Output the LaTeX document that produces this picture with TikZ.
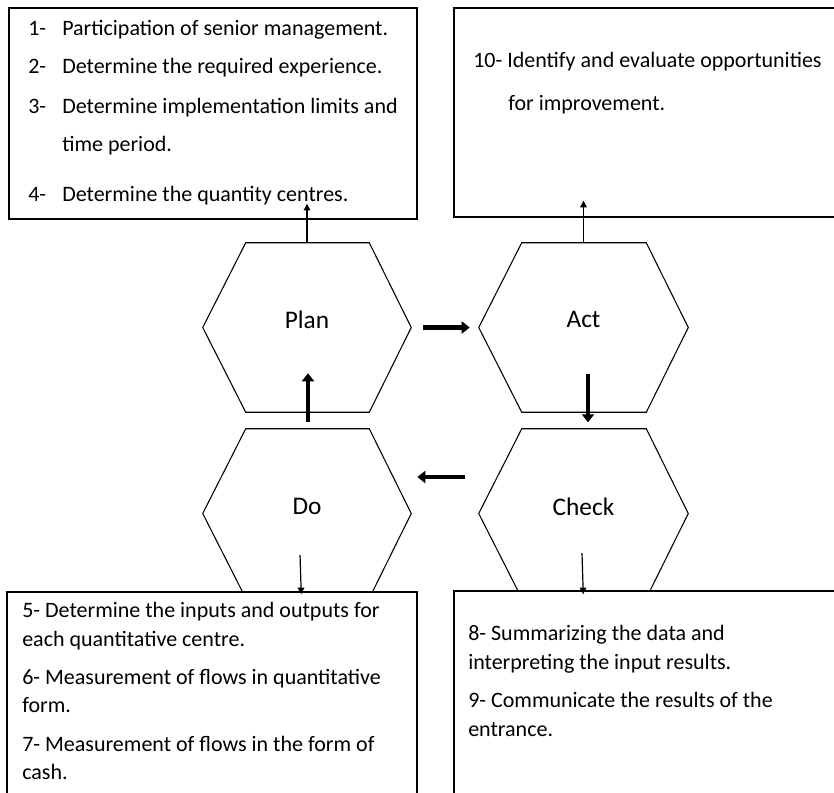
\documentclass[tikz,border=0pt]{standalone}
\usepackage{fontspec}
\setmainfont{Carlito}
\usetikzlibrary{arrows.meta,calc,fit}
\begin{document}
\begin{tikzpicture}[x=0.75pt,y=-0.75pt,
  box/.style={draw, line width=1.1pt, fill=white, inner sep=0pt},
  hexbox/.style={inner sep=0pt},
  hexline/.style={draw, line width=0.8pt, fill=white},
  hexlabel/.style={font=\fontsize{19}{23}\selectfont, inner sep=0pt},
  txt/.style={font=\fontsize{16.5}{20}\selectfont, anchor=base west, inner sep=0pt},
  bigarrow/.style={line width=3.6pt, -{Triangle[length=6pt,width=9pt]}},
  smallarrow/.style={line width=0.9pt, -{Triangle[length=5pt,width=5pt]}}
]
\useasboundingbox (0,0) rectangle (834,792);
\clip (0,0) rectangle (834,792);
\newcommand\hexpath[1]{\draw[hexline] (#1.west) -- ($(#1.north west)+(43,0)$) -- ($(#1.north east)+(-42,0)$) -- (#1.east) -- ($(#1.south east)+(-42,0)$) -- ($(#1.south west)+(43,0)$) -- cycle;}
% hexagons
\node[hexbox, fit={(203,243) (411,412)}] (plan) {};
\node[hexbox, fit={(479,243) (688,412)}] (act) {};
\node[hexbox, fit={(203,429) (411,598)}] (do) {};
\node[hexbox, fit={(479,429) (688,598)}] (check) {};
\hexpath{plan}
\hexpath{act}
\hexpath{do}
\hexpath{check}
\node[hexlabel] (planlabel) at ($(plan.center)+(0,-8)$) {Plan};
\node[hexlabel] (actlabel) at ($(act.center)+(0,-8)$) {Act};
\node[hexlabel] (dolabel) at ($(do.center)+(0,-7)$) {Do};
\node[hexlabel] (checklabel) at ($(check.center)+(0,-7)$) {Check};
% boxes
\node[box, fit={(9,8) (417,219)}] (box1) {};
\node[box, fit={(454,8) (840,217)}] (box2) {};
\node[box, fit={(7,592) (417,800)}] (box3) {};
\node[box, fit={(454,591) (840,800)}] (box4) {};
% box 1 text
\node[txt] (t1n) at (28,36) {1-};
\node[txt] (t1) at (62,36) {Participation of senior management.};
\node[txt] (t2n) at (28,74) {2-};
\node[txt] (t2) at (62,74) {Determine the required experience.};
\node[txt] (t3n) at (28,113) {3-};
\node[txt] (t3) at (62,113) {Determine implementation limits and};
\node[txt] (t3b) at (62,151) {time period.};
\node[txt] (t4n) at (28,201) {4-};
\node[txt] (t4) at (62,201) {Determine the quantity centres.};
% box 2 text
\node[txt] (t10) at (473,68) {10- Identify and evaluate opportunities};
\node[txt] (t10b) at (508,110) {for improvement.};
% box 3 text
\node[txt] (t5) at (22,617) {5- Determine the inputs and outputs for};
\node[txt] (t5b) at (22,646) {each quantitative centre.};
\node[txt] (t6) at (22,684) {6- Measurement of flows in quantitative};
\node[txt] (t6b) at (22,712) {form.};
\node[txt] (t7) at (22,751) {7- Measurement of flows in the form of};
\node[txt] (t7b) at (22,779) {cash.};
% box 4 text
\node[txt] (t8) at (468,640) {8- Summarizing the data and};
\node[txt] (t8b) at (468,669) {interpreting the input results.};
\node[txt] (t9) at (468,707) {9- Communicate the results of the};
\node[txt] (t9b) at (468,736) {entrance.};
% cycle arrows
\draw[bigarrow] ($(plan.east)+(12,0)$) -- ($(act.west)+(-9,0)$);
\draw[bigarrow] ($(act.south)+(4.5,-38)$) -- ($(act.south)+(4.5,10)$);
\draw[bigarrow] ($(check.west)+(-14,-36.5)$) -- ($(do.east)+(6,-36.5)$);
\draw[bigarrow] ($(do.north)+(1,-7)$) -- ($(plan.south)+(1,-39)$);
% output arrows
\draw[smallarrow] (plan.north) -- ($(box1.south -| plan.north)+(0,-16)$);
\draw[smallarrow] (act.north) -- ($(box2.south -| act.north)+(0,-17)$);
\draw[smallarrow] ($(do.center)+(-7,41.5)$) -- ($(box3.north west)+(295,3)$);
\draw[smallarrow] ($(check.center)+(-1.5,39.5)$) -- ($(box4.north west)+(130,4)$);
\end{tikzpicture}
\end{document}
